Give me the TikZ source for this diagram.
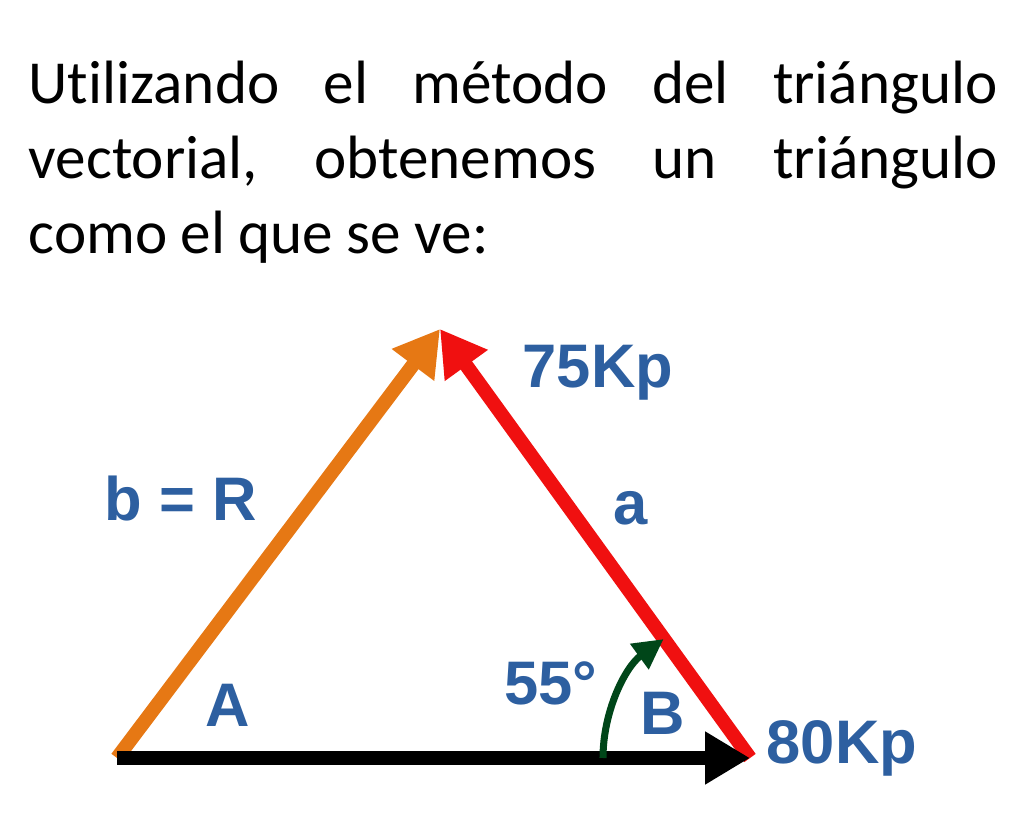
\documentclass[tikz,border=0pt]{standalone}
\usepackage{fontspec}
\setmainfont[Ligatures=NoCommon]{Carlito}
\newfontfamily\labelfont{Liberation Sans}
\usetikzlibrary{arrows.meta}
\definecolor{vecorange}{RGB}{230,120,20}
\definecolor{vecred}{RGB}{240,16,16}
\definecolor{anggreen}{RGB}{0,70,25}
\definecolor{lblblue}{RGB}{45,95,160}
\begin{document}
\begin{tikzpicture}
\tikzstyle{vector}=[line width=4pt, -{Triangle[length=0.45cm,width=0.5cm]}]
\tikzstyle{lbl}=[text=lblblue, font=\labelfont\bfseries\fontsize{17.5}{20}\selectfont, inner sep=0pt]
\useasboundingbox (0,0) rectangle (10.24,8.28);

\node[anchor=north west, text width=9.69cm, align=left, inner sep=0pt,
  font=\fontsize{17.4}{21.4}\selectfont] (title) at (0.28,7.68)
  {\spaceskip=0.22em Utilizando\hfill el\hfill método\hfill del\hfill triángulo\\
   vectorial,\hfill obtenemos\hfill un\hfill triángulo\\
   como el que se ve:};

\coordinate (O) at (1.17,0.70);
\coordinate (P) at (7.50,0.70);
\coordinate (T) at (4.40,4.99);

\draw[vector, vecorange] (O) -- (T);
\draw[vector, vecred] (P) -- (T);
\draw[vector, black] (O) -- (P);

\draw[anggreen, line width=2pt, -{Triangle[length=0.3cm,width=0.3cm]}]
  (P) ++(180:1.47) arc (180:126:1.47);

\node[lbl] (magA) at (5.98,4.55) {75Kp};
\node[lbl] (labR) at (1.81,3.29) {b = R};
\node[lbl] (laba) at (6.31,3.20) {a};
\node[lbl] (angA) at (2.28,1.23) {A};
\node[lbl] (ang) at (5.51,1.45) {55°};
\node[lbl] (angB) at (6.63,1.15) {B};
\node[lbl] (magB) at (8.42,0.80) {80Kp};
\end{tikzpicture}
\end{document}
